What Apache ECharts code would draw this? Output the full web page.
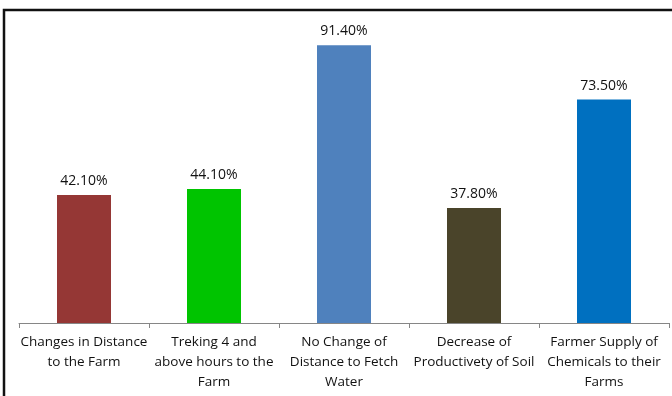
<!DOCTYPE html>
<html>
<head>
<meta charset="utf-8">
<script src="https://cdn.jsdelivr.net/npm/echarts@6/dist/echarts.min.js"></script>
<style>
  html, body { margin: 0; padding: 0; background: #fff; }
  #chart { width: 672px; height: 396px; }
</style>
</head>
<body>
<div id="chart"></div>
<script>
// Survey responses (percent of farmers)
const categories = [
  'Changes in Distance\nto the Farm',
  'Treking 4 and\nabove hours to the\nFarm',
  'No Change of\nDistance to Fetch\nWater',
  'Decrease of\nProductivety of Soil',
  'Farmer Supply of\nChemicals to their\nFarms'
];
const values = [42.1, 44.1, 91.4, 37.8, 73.5];
const barColors = ['#953735', '#00C400', '#4F81BD', '#4A442A', '#0070C0'];

const chart = echarts.init(document.getElementById('chart'), null, { renderer: 'canvas' });

chart.setOption({
  animation: false,
  backgroundColor: '#fff',
  textStyle: { fontFamily: 'Open Sans' },
  graphic: [{
    type: 'rect',
    shape: { x: 4, y: 10, width: 720, height: 420 },
    style: { fill: 'none', stroke: '#111', lineWidth: 2.5 },
    silent: true
  }],
  grid: { left: 19, right: 3, top: 19, bottom: 73, containLabel: false },
  xAxis: {
    type: 'category',
    data: categories,
    axisLine: { lineStyle: { color: '#868686', width: 1 } },
    axisTick: { show: true, length: 5, lineStyle: { color: '#868686' } },
    axisLabel: {
      interval: 0,
      margin: 9,
      color: '#111',
      fontSize: 13.5,
      lineHeight: 20,
      fontFamily: 'Open Sans'
    }
  },
  yAxis: {
    type: 'value',
    min: 0,
    max: 100,
    show: false,
    splitLine: { show: false }
  },
  series: [{
    type: 'bar',
    barWidth: 54,
    data: values.map((v, i) => ({ value: v, itemStyle: { color: barColors[i] } })),
    label: {
      show: true,
      position: 'top',
      distance: 7,
      color: '#111',
      fontSize: 14,
      fontFamily: 'Open Sans',
      formatter: p => p.value.toFixed(2) + '%'
    }
  }]
});
</script>
</body>
</html>
